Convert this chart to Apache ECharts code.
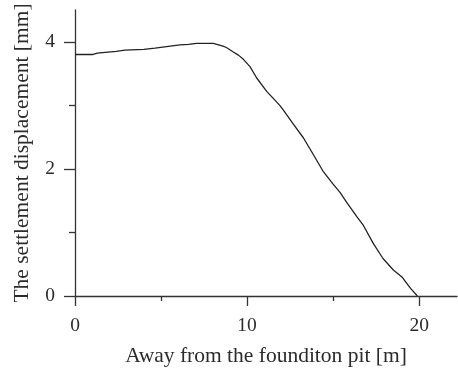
<!DOCTYPE html>
<html>
<head>
<meta charset="utf-8">
<script src="https://cdn.jsdelivr.net/npm/echarts@6/dist/echarts.min.js"></script>
<style>
html,body{margin:0;padding:0;background:#fff;}
#chart{width:458px;height:372px;}
</style>
</head>
<body>
<div id="chart"></div>
<script>
// Distance from the foundation pit [m]
var distance = [0, 1.05, 1.3, 1.6, 2.4, 2.9, 4.0, 4.65, 4.75, 6.1, 6.6, 7.07, 8.04, 8.24, 8.6, 8.8, 9.2, 9.5, 9.8, 10.17, 10.56, 11.14, 11.9, 12.1, 12.7, 13.27, 13.84, 14.4, 15.0, 15.4, 15.8, 16.4, 16.76, 17.35, 17.9, 18.5, 19.0, 19.5, 19.9];
// Settlement displacement [mm]
var settlement = [3.80, 3.80, 3.82, 3.83, 3.85, 3.87, 3.88, 3.90, 3.93, 3.95, 3.96, 3.975, 3.975, 3.96, 3.93, 3.91, 3.84, 3.79, 3.72, 3.61, 3.43, 3.22, 3.00, 2.93, 2.70, 2.49, 2.23, 1.97, 1.76, 1.63, 1.47, 1.24, 1.11, 0.82, 0.59, 0.41, 0.30, 0.12, 0.0];

var xMajorTicks = [0, 10, 20];
var xMinorTicks = [5, 15];
var yMajorTicks = [0, 2, 4];
var yMinorTicks = [1, 3];

var xTitle = 'Away from the founditon pit [m]';
var yTitle = 'The settlement displacement [mm]';

var FONT = 'Liberation Serif';
var TXT = '#2b2b2b';
var AX = '#333333';

var pts = distance.map(function (d, i) { return [d, settlement[i]]; });

var chart = echarts.init(document.getElementById('chart'), null, { renderer: 'canvas' });
chart.setOption({
  animation: false,
  backgroundColor: '#ffffff',
  grid: { left: 75, top: 10, width: 382, bottom: 74.3, containLabel: false },
  xAxis: [
    {
      type: 'value', min: 0, max: 22.2,
      name: xTitle, nameLocation: 'middle', nameGap: 49,
      nameTextStyle: { fontFamily: FONT, fontSize: 21.5, color: TXT },
      axisLine: { show: true, onZero: false, lineStyle: { color: AX, width: 1.3 } },
      axisTick: { show: true, customValues: xMajorTicks, length: 10, inside: false, lineStyle: { color: AX, width: 1.3 } },
      axisLabel: { customValues: xMajorTicks, margin: 20, fontFamily: FONT, fontSize: 19.5, color: TXT },
      splitLine: { show: false }
    },
    {
      type: 'value', min: 0, max: 22.2, position: 'bottom',
      axisLine: { show: false },
      axisTick: { show: true, customValues: xMinorTicks, length: 5, lineStyle: { color: AX, width: 1.3 } },
      axisLabel: { show: false },
      splitLine: { show: false }
    }
  ],
  yAxis: [
    {
      type: 'value', min: 0, max: 4.5,
      name: yTitle, nameLocation: 'middle', nameGap: 42, nameRotate: 90,
      nameTextStyle: { fontFamily: FONT, fontSize: 21.5, color: TXT },
      axisLine: { show: true, onZero: false, lineStyle: { color: AX, width: 1.3 } },
      axisTick: { show: true, customValues: yMajorTicks, length: 11, lineStyle: { color: AX, width: 1.3 } },
      axisLabel: { customValues: yMajorTicks, margin: 20, fontFamily: FONT, fontSize: 19.5, color: TXT },
      splitLine: { show: false }
    },
    {
      type: 'value', min: 0, max: 4.5, position: 'left',
      axisLine: { show: false },
      axisTick: { show: true, customValues: yMinorTicks, length: 6, lineStyle: { color: AX, width: 1.3 } },
      axisLabel: { show: false },
      splitLine: { show: false }
    }
  ],
  series: [{
    type: 'line',
    xAxisIndex: 0, yAxisIndex: 0,
    data: pts,
    showSymbol: false,
    smooth: false,
    lineStyle: { color: '#222222', width: 1.3 }
  }]
});
</script>
</body>
</html>
